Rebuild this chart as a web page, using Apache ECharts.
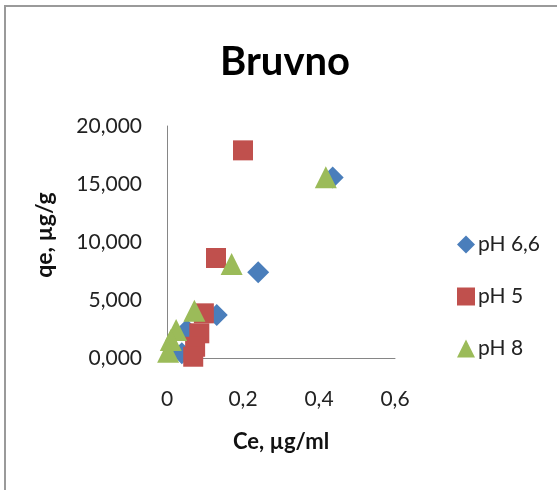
<!DOCTYPE html>
<html>
<head>
<meta charset="utf-8">
<script src="https://cdn.jsdelivr.net/npm/echarts@6/dist/echarts.min.js"></script>
<style>html,body{margin:0;padding:0;background:#fff}#c{width:557px;height:490px}</style>
</head>
<body>
<div id="c"></div>
<script>
var titleText = 'Bruvno';
var xName = 'Ce, µg/ml';
var yName = 'qe, µg/g';
var seriesNames = ['pH 6,6', 'pH 5', 'pH 8'];
var xTickLabels = ['0', '0,2', '0,4', '0,6'];
var yTickLabels = ['0,000', '5,000', '10,000', '15,000', '20,000'];

var ph66 = [[0.436, 15550], [0.240, 7390], [0.131, 3710], [0.052, 2410], [0.039, 400]];
var ph5 = [[0.200, 17900], [0.129, 8620], [0.097, 3850], [0.085, 2130], [0.074, 970], [0.069, 110]];
var ph8 = [[0.418, 15580], [0.170, 8100], [0.072, 4080], [0.024, 2410], [0.010, 1550], [0.003, 540]];

var FONT = 'Lato';
var chart = echarts.init(document.getElementById('c'));
chart.setOption({
  backgroundColor: '#fff',
  animation: false,
  grid: { left: 167, right: 162, top: 126, bottom: 132 },
  xAxis: {
    type: 'value', min: 0, max: 0.6, interval: 0.2,
    name: xName, nameLocation: 'middle', nameGap: 73,
    nameTextStyle: { fontFamily: FONT, fontWeight: 'bold', fontSize: 22, color: '#111' },
    axisLine: { lineStyle: { color: '#868686', width: 1 } },
    axisTick: { show: false },
    splitLine: { show: false },
    axisLabel: {
      margin: 31, fontFamily: FONT, fontSize: 21, color: '#222',
      formatter: function (v) { return xTickLabels[Math.round(v / 0.2)]; }
    }
  },
  yAxis: {
    type: 'value', min: 0, max: 20000, interval: 5000,
    name: yName, nameLocation: 'middle', nameGap: 111,
    nameTextStyle: { fontFamily: FONT, fontWeight: 'bold', fontSize: 23, color: '#111', padding: [0, 0, 0, 14] },
    axisLine: { show: true, lineStyle: { color: '#868686', width: 1 } },
    axisTick: { show: false },
    splitLine: { show: false },
    axisLabel: {
      margin: 25, fontFamily: FONT, fontSize: 21, color: '#222',
      formatter: function (v) { return yTickLabels[Math.round(v / 5000)]; }
    }
  },
  legend: {
    orient: 'vertical', left: 452, top: 229,
    itemWidth: 18, itemHeight: 18, itemGap: 31,
    textStyle: { fontFamily: FONT, fontSize: 21, color: '#222', padding: [0, 0, 0, -2] },
    data: seriesNames
  },
  series: [
    { name: seriesNames[0], type: 'scatter', data: ph66, symbol: 'diamond', symbolSize: 22,
      itemStyle: { color: '#4A7EBB', opacity: 1 } },
    { name: seriesNames[1], type: 'scatter', data: ph5, symbol: 'rect', symbolSize: 20,
      itemStyle: { color: '#C0504D', opacity: 1 } },
    { name: seriesNames[2], type: 'scatter', data: ph8, symbol: 'triangle', symbolSize: 22,
      itemStyle: { color: '#9BBB59', opacity: 1 } }
  ],
  graphic: [
    { type: 'text', x: 285, y: 62, style: { text: titleText, align: 'center', verticalAlign: 'middle',
      fontFamily: FONT, fontWeight: 'bold', fontSize: 40, fill: '#000' } },
    { type: 'line', shape: { x1: 5, y1: 6, x2: 557, y2: 6 }, style: { stroke: '#9a9a9a', lineWidth: 2 } },
    { type: 'line', shape: { x1: 5, y1: 5, x2: 5, y2: 490 }, style: { stroke: '#9a9a9a', lineWidth: 2 } }
  ]
});
</script>
</body>
</html>
